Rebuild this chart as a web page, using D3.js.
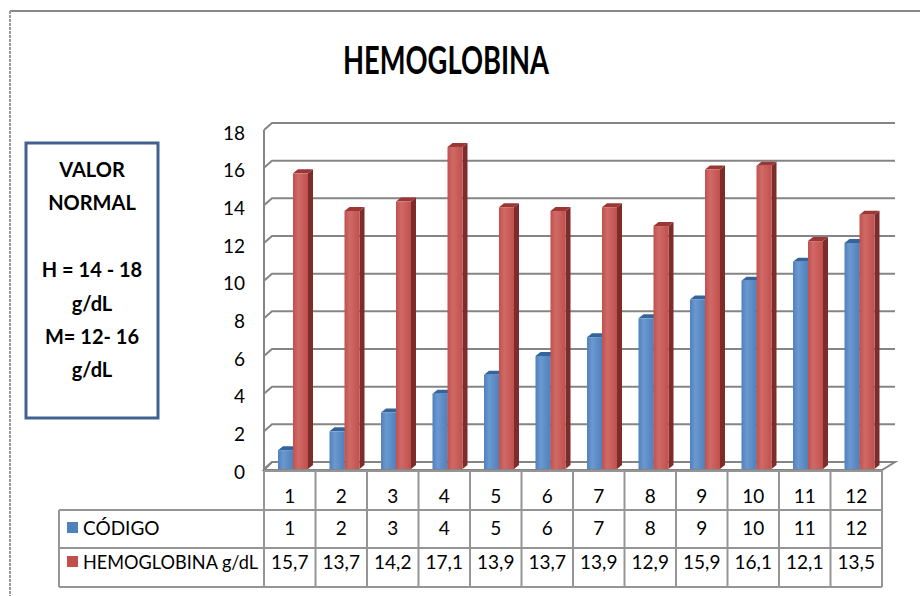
<!DOCTYPE html>
<html>
<head>
<meta charset="utf-8">
<script src="https://cdn.jsdelivr.net/npm/d3@7"></script>
<style>
  body { margin: 0; background: #fff; }
  svg { display: block; font-family: Lato, 'Open Sans', sans-serif; }
</style>
</head>
<body>
<svg id="chart" width="920" height="596"></svg>
<script>
// data
const categories = ['1', '2', '3', '4', '5', '6', '7', '8', '9', '10', '11', '12'];
const codigo = [1, 2, 3, 4, 5, 6, 7, 8, 9, 10, 11, 12];
const hemoglobina = [15.7, 13.7, 14.2, 17.1, 13.9, 13.7, 13.9, 12.9, 15.9, 16.1, 12.1, 13.5];
const seriesNames = ['CÓDIGO', 'HEMOGLOBINA g/dL'];
const yTicks = [0, 2, 4, 6, 8, 10, 12, 14, 16, 18];
const noteLines = ['VALOR', 'NORMAL', '', 'H = 14 - 18', 'g/dL', 'M= 12- 16', 'g/dL'];

const colors = {
  blue: { front: '#4f81bd', light: '#6b98cf', top: '#35649c', side: '#2f5788' },
  red: { front: '#c0504d', light: '#d06a67', top: '#9a3634', side: '#7e2c2a' }
};

const svg = d3.select('#chart');
const esLocale = d3.formatLocale({ decimal: ',', thousands: '.', grouping: [3], currency: ['', ''] });
const fmt = esLocale.format('.1f');

// 3D offsets
const depthX = 5;
const depthY = 4;
const wallX = 8;
const wallY = 7;

const x = d3.scaleBand()
    .domain(categories)
    .range([264, 882]);

const y = d3.scaleLinear()
    .domain([0, 18])
    .range([469, 130]);

// gradients for the bar fronts
const defs = svg.append('defs');
Object.entries(colors).forEach(([key, c]) => {
  const g = defs.append('linearGradient')
      .attr('id', `grad-${key}`)
      .attr('x1', '0%').attr('x2', '100%');
  g.append('stop').attr('offset', '0%').attr('stop-color', c.front);
  g.append('stop').attr('offset', '35%').attr('stop-color', c.light);
  g.append('stop').attr('offset', '100%').attr('stop-color', c.front);
});

// outer frame (top + dotted left)
svg.append('line')
    .attr('x1', 10).attr('x2', 920)
    .attr('y1', 11).attr('y2', 11)
    .attr('stroke', '#888').attr('stroke-width', 2);
svg.append('line')
    .attr('x1', 10).attr('x2', 10)
    .attr('y1', 11).attr('y2', 596)
    .attr('stroke', '#9a9a9a').attr('stroke-width', 2)
    .attr('stroke-dasharray', '3,1');

// title
svg.append('text')
    .attr('x', 343).attr('y', 74)
    .attr('textLength', 206)
    .attr('lengthAdjust', 'spacingAndGlyphs')
    .style('font-size', '39px')
    .style('font-weight', 'bold')
    .text('HEMOGLOBINA');

// note box
svg.append('rect')
    .attr('x', 26).attr('y', 143)
    .attr('width', 132).attr('height', 275)
    .attr('fill', '#fff')
    .attr('stroke', '#41628f')
    .attr('stroke-width', 3);

const noteY = [177, 210, 243, 277, 311, 344, 377];
svg.append('g')
  .selectAll('text')
  .data(noteLines)
  .join('text')
    .attr('x', 92)
    .attr('y', (d, i) => noteY[i])
    .attr('text-anchor', 'middle')
    .style('font-size', '20px')
    .style('font-weight', 'bold')
    .text(d => d);

// walls and floor
const grid = svg.append('g');

grid.append('path')
    .attr('d', `M264,${y(0) + 1}L882,${y(0) + 1}L${882 + 13},${y(0) - wallY}L${264 + wallX},${y(0) - wallY}Z`)
    .attr('fill', '#fff')
    .attr('stroke', '#858585')
    .attr('stroke-width', 2);

grid.selectAll('.grid-line')
  .data(yTicks)
  .join('path')
    .attr('class', 'grid-line')
    .attr('d', d => `M264,${y(d)}L${264 + wallX},${y(d) - wallY}L895,${y(d) - wallY}`)
    .attr('fill', 'none')
    .attr('stroke', '#858585')
    .attr('stroke-width', 2);

grid.append('line')
    .attr('x1', 264).attr('x2', 264)
    .attr('y1', y(18)).attr('y2', y(0) + 2)
    .attr('stroke', '#858585')
    .attr('stroke-width', 2);

// y axis labels
const yAxis = svg.append('g')
    .attr('transform', 'translate(247,3)')
    .call(d3.axisLeft(y).tickValues(yTicks).tickSize(0).tickPadding(2));
yAxis.select('.domain').remove();
yAxis.selectAll('text')
    .style('font-family', 'Lato, sans-serif')
    .style('font-size', '19px')
    .attr('fill', '#000');

// bars
const barW = 15;
const series = [
  { name: seriesNames[0], values: codigo, color: colors.blue, key: 'blue', offset: 14 },
  { name: seriesNames[1], values: hemoglobina, color: colors.red, key: 'red', offset: 29 }
];

const bars = svg.append('g');
categories.forEach((cat, i) => {
  series.forEach((s) => {
    const x0 = x(cat) + s.offset;
    const x1 = x0 + barW;
    const yv = y(s.values[i]);
    const y0 = y(0);
    const g = bars.append('g');
    g.append('path')
        .attr('d', `M${x1},${yv}L${x1 + depthX},${yv - depthY}L${x1 + depthX},${y0 - depthY}L${x1},${y0}Z`)
        .attr('fill', s.color.side);
    g.append('path')
        .attr('d', `M${x0},${yv}L${x0 + depthX},${yv - depthY}L${x1 + depthX},${yv - depthY}L${x1},${yv}Z`)
        .attr('fill', s.color.top);
    g.append('rect')
        .attr('x', x0).attr('y', yv)
        .attr('width', barW).attr('height', y0 - yv)
        .attr('fill', `url(#grad-${s.key})`);
  });
});

// data table
const table = svg.append('g');
const rowY = [471, 510, 548, 587];
const lineColor = '#959595';

table.selectAll('.row-line')
  .data(rowY)
  .join('line')
    .attr('class', 'row-line')
    .attr('x1', (d, i) => (i === 0 ? 264 : 59))
    .attr('x2', 882)
    .attr('y1', d => d).attr('y2', d => d)
    .attr('stroke', lineColor).attr('stroke-width', 2);

const colEdges = categories.map(c => x(c)).concat([x.range()[1]]);
table.selectAll('.col-line')
  .data(colEdges)
  .join('line')
    .attr('class', 'col-line')
    .attr('x1', d => d).attr('x2', d => d)
    .attr('y1', rowY[0]).attr('y2', rowY[3])
    .attr('stroke', lineColor).attr('stroke-width', 2);

table.append('line')
    .attr('x1', 59).attr('x2', 59)
    .attr('y1', rowY[1]).attr('y2', rowY[3])
    .attr('stroke', lineColor).attr('stroke-width', 2);

const textY = [496, 528, 562];
const cellText = (vals, row, f) => {
  table.append('g')
    .selectAll('text')
    .data(vals)
    .join('text')
      .attr('x', (d, i) => x(categories[i]) + x.bandwidth() / 2)
      .attr('y', textY[row])
      .attr('dy', '0.35em')
      .attr('text-anchor', 'middle')
      .style('font-size', '19px')
      .text(f);
};
cellText(categories, 0, d => d);
cellText(codigo, 1, d => d);
cellText(hemoglobina, 2, d => fmt(d));

// legend keys in the table
series.forEach((s, i) => {
  table.append('rect')
      .attr('x', 67).attr('y', textY[i + 1] - 6)
      .attr('width', 11).attr('height', 11)
      .attr('fill', s.color.front);
  table.append('text')
      .attr('x', 83).attr('y', textY[i + 1])
      .attr('dy', '0.35em')
      .attr('textLength', s.name.length > 8 ? 175 : null)
      .attr('lengthAdjust', 'spacingAndGlyphs')
      .style('font-size', '19px')
      .text(s.name);
});
</script>
</body>
</html>
